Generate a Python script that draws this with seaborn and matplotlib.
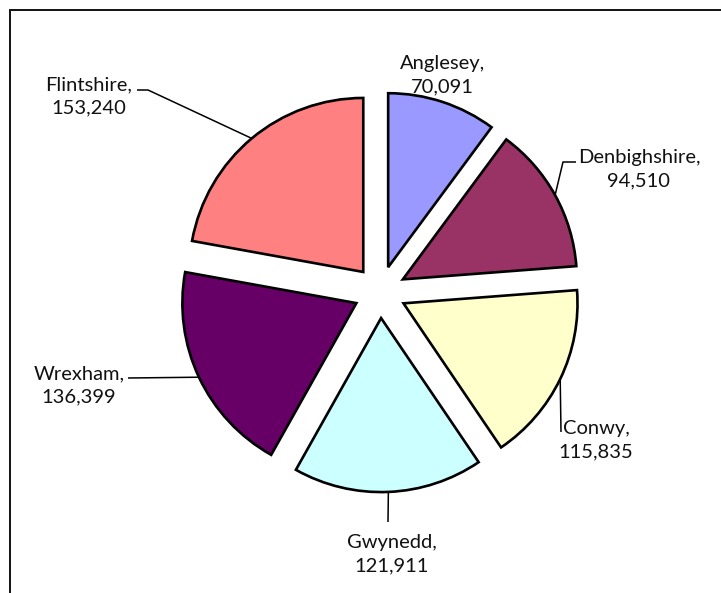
import matplotlib
matplotlib.use("Agg")
import matplotlib.pyplot as plt
from matplotlib.lines import Line2D
import numpy as np
import seaborn as sns

# Population by county
counties = ["Anglesey", "Denbighshire", "Conwy", "Gwynedd", "Wrexham", "Flintshire"]
population = [70091, 94510, 115835, 121911, 136399, 153240]
colors = ["#9999FF", "#993366", "#FFFFCC", "#CCFFFF", "#660066", "#FF8080"]

# Label block centres (pixels from top-left) and leader-line end points
label_pos = {
    "Anglesey": (442, 75),
    "Denbighshire": (639, 169),
    "Conwy": (596, 440),
    "Gwynedd": (392, 554),
    "Wrexham": (79, 385),
    "Flintshire": (89, 96),
}
leader_pts = {
    "Anglesey": None,
    "Denbighshire": [(563, 162), (576, 162)],
    "Conwy": [(561, 432)],
    "Gwynedd": [(388, 522)],
    "Wrexham": [(128, 378)],
    "Flintshire": [(148, 90), (137, 90)],
}

sns.set_theme(style="white")
plt.rcParams["font.family"] = ["Lato", "DejaVu Sans"]

W, H = 721, 593
CX, CY, R = 380, 292, 174

fig = plt.figure(figsize=(W / 100, H / 100), dpi=100)
ax = fig.add_axes([0, 0, 1, 1])


def px(p):
    return ((p[0] - CX) / R, (CY - p[1]) / R)


wedges, _ = ax.pie(
    population,
    colors=colors,
    startangle=90,
    counterclock=False,
    explode=[0.15] * len(population),
    radius=1.0,
    wedgeprops=dict(edgecolor="black", linewidth=1.9),
)
ax.set_aspect("auto")
ax.set_xlim(-CX / R, (W - CX) / R)
ax.set_ylim(-(H - CY) / R, CY / R)
ax.axis("off")

for name, val, w in zip(counties, population, wedges):
    mid = np.deg2rad((w.theta1 + w.theta2) / 2)
    cx, cy = w.center
    anchor = (cx + w.r * np.cos(mid), cy + w.r * np.sin(mid))
    pts = leader_pts[name]
    if pts:
        xs = [anchor[0]] + [px(p)[0] for p in pts]
        ys = [anchor[1]] + [px(p)[1] for p in pts]
        ax.plot(xs, ys, color="black", lw=1.1, solid_capstyle="butt", zorder=0)
    tx, ty = px(label_pos[name])
    ax.text(tx, ty, f"{name},\n{val:,}", ha="center", va="center",
            fontsize=14.5, color="#111111", linespacing=1.42)

# Chart frame (left and top edges)
fig.add_artist(Line2D([9.5 / W, 9.5 / W], [0, 1 - 9.5 / H], color="#111111", lw=1.4,
                      transform=fig.transFigure))
fig.add_artist(Line2D([9.5 / W, 1], [1 - 9.5 / H, 1 - 9.5 / H], color="#111111", lw=1.4,
                      transform=fig.transFigure))

fig.savefig("out.png", dpi=100, facecolor="white")
